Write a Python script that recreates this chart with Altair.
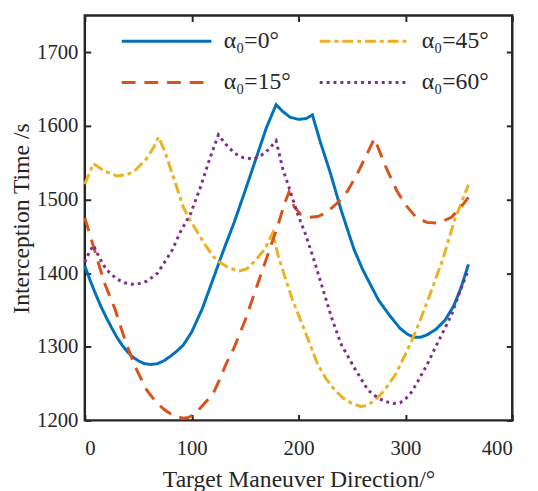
import altair as alt
import pandas as pd

series_labels = ["α₀=0°", "α₀=15°", "α₀=45°", "α₀=60°"]
colors = ["#0072BD", "#D95319", "#EDB120", "#7E2F8E"]
dashes = [[1, 0], [14, 9], [11, 4, 4, 4], [3, 4]]
legend_row1 = ["α₀=0°", "α₀=45°"]
legend_row2 = ["α₀=15°", "α₀=60°"]

x_a0 = [0, 5, 10, 15, 20, 25, 30, 35, 40, 45, 50, 56, 62, 68, 74, 80, 86, 92, 100, 110, 120, 130,
        140, 150, 160, 170, 179, 185, 192, 200, 207, 213, 220, 230, 240, 252, 260, 266, 275, 285,
        295, 302, 308, 314, 320, 328, 337, 345, 352, 359]
y_a0 = [1410, 1390, 1372, 1355, 1340, 1326, 1313, 1302, 1293, 1286, 1281, 1277, 1276, 1277, 1281,
        1287, 1294, 1302, 1320, 1352, 1392, 1432, 1470, 1512, 1555, 1598, 1629, 1620, 1612, 1609,
        1610, 1615, 1580, 1535, 1485, 1432, 1405, 1388, 1363, 1343, 1325, 1317, 1313, 1313, 1316,
        1323, 1336, 1355, 1380, 1412]

x_a15 = [0, 9, 18, 28, 37, 46, 58, 66, 74, 80, 86, 92, 97, 103, 110, 120, 126, 132, 140, 150, 160,
         170, 180, 187, 191, 196, 202, 210, 218, 226, 236, 246, 255, 262, 271, 282, 292, 300, 310,
         320, 331, 343, 351, 359]
y_a15 = [1475, 1432, 1388, 1352, 1312, 1276, 1241, 1226, 1215, 1209, 1205, 1203, 1204, 1209, 1220,
         1236, 1255, 1276, 1300, 1336, 1378, 1420, 1462, 1495, 1510, 1490, 1480, 1476, 1477, 1482,
         1495, 1512, 1535, 1556, 1583, 1543, 1512, 1493, 1476, 1469, 1468, 1476, 1488, 1503]

x_a45 = [0, 8, 18, 30, 40, 48, 58, 64, 69, 75, 80, 86, 92, 98, 104, 112, 120, 127, 135, 145, 152,
         160, 168, 176, 181, 185, 194, 206, 218, 226, 234, 242, 250, 258, 264, 272, 280, 291, 303,
         312, 325, 335, 346, 359]
y_a45 = [1521, 1549, 1539, 1532, 1534, 1541, 1556, 1570, 1585, 1565, 1543, 1517, 1490, 1473, 1459,
         1440, 1423, 1414, 1407, 1403, 1406, 1418, 1432, 1455, 1423, 1405, 1365, 1321, 1276, 1256,
         1241, 1230, 1223, 1219, 1220, 1228, 1240, 1263, 1299, 1329, 1379, 1419, 1472, 1520]

x_a60 = [0, 4, 8, 14, 20, 30, 37, 44, 51, 58, 68, 76, 82, 89, 99, 108, 117, 125, 132, 140, 148, 158,
         165, 172, 179, 185, 193, 199, 206, 214, 222, 231, 240, 252, 265, 272, 280, 289, 295, 300,
         306, 312, 320, 328, 343, 352, 359]
y_a60 = [1415, 1428, 1438, 1420, 1405, 1392, 1387, 1385, 1386, 1389, 1400, 1418, 1432, 1455, 1481,
         1516, 1556, 1588, 1575, 1563, 1557, 1555, 1560, 1568, 1580, 1543, 1508, 1481, 1455, 1420,
         1382, 1339, 1303, 1272, 1241, 1233, 1226, 1223, 1224, 1229, 1239, 1254, 1275, 1299, 1343,
         1379, 1405]

x_ticks = [0, 100, 200, 300, 400]
y_ticks = [1200, 1300, 1400, 1500, 1600, 1700]

rows = []
for lab, xs, ys in zip(series_labels, [x_a0, x_a15, x_a45, x_a60], [y_a0, y_a15, y_a45, y_a60]):
    for i, (xv, yv) in enumerate(zip(xs, ys)):
        rows.append({"series": lab, "x": xv, "y": yv, "i": i})
df = pd.DataFrame(rows)

color_of = dict(zip(series_labels, colors))
dash_of = dict(zip(series_labels, dashes))

FONT = "Liberation Serif"
INK = "#262626"
xdom = [0, 400]
ydom = [1200, 1750]
xscale = alt.Scale(domain=xdom, nice=False, zero=False)
yscale = alt.Scale(domain=ydom, nice=False, zero=False)


def series_layer(members, legend_y, col_pad, x_axis, y_axis):
    sub = df[df["series"].isin(members)]
    return alt.Chart(sub).mark_line(strokeWidth=3).encode(
        x=alt.X("x:Q", scale=xscale, axis=x_axis),
        y=alt.Y("y:Q", scale=yscale, axis=y_axis),
        color=alt.Color("series:N",
                        scale=alt.Scale(domain=members, range=[color_of[m] for m in members]),
                        legend=alt.Legend(orient="none", legendX=36, legendY=legend_y,
                                          direction="horizontal", columns=2,
                                          symbolType="stroke", symbolSize=8281,
                                          symbolStrokeWidth=3, labelFont=FONT,
                                          labelFontSize=24, labelColor=INK, title=None,
                                          labelOffset=11, columnPadding=col_pad, padding=0)),
        strokeDash=alt.StrokeDash("series:N",
                                  scale=alt.Scale(domain=members,
                                                  range=[dash_of[m] for m in members]),
                                  legend=None),
        detail="series:N",
        order="i:Q",
    )


x_axis_main = alt.Axis(values=x_ticks, format="d", orient="bottom", offset=-6, tickSize=6,
                       tickWidth=2, tickColor=INK, domain=False, grid=False, labelFont=FONT,
                       labelFontSize=21, labelColor=INK, labelPadding=18,
                       title="Target Maneuver Direction/°", titleFont=FONT, titleFontSize=24,
                       titleFontWeight="normal", titleColor=INK, titlePadding=9)
y_axis_main = alt.Axis(values=y_ticks, format="d", orient="left", offset=-6, tickSize=6,
                       tickWidth=2, tickColor=INK, domain=False, grid=False, labelFont=FONT,
                       labelFontSize=21, labelColor=INK, labelPadding=7,
                       title="Interception Time /s", titleFont=FONT, titleFontSize=24,
                       titleFontWeight="normal", titleColor=INK, titlePadding=3)

layer_a = series_layer(legend_row1, -21, 34, x_axis_main, y_axis_main)
layer_b = series_layer(legend_row2, 21, 22, None, None)

ghost = alt.Chart(df).mark_line(opacity=0).encode(
    x=alt.X("x:Q", scale=xscale,
            axis=alt.Axis(values=x_ticks, orient="top", offset=-6, tickSize=6, tickWidth=2,
                          tickColor=INK, domain=False, grid=False, labels=False, title=None)),
    y=alt.Y("y:Q", scale=yscale,
            axis=alt.Axis(values=y_ticks, orient="right", offset=-6, tickSize=6, tickWidth=2,
                          tickColor=INK, domain=False, grid=False, labels=False, title=None)),
    detail="series:N",
    order="i:Q",
)

chart = alt.layer(layer_a, layer_b, ghost).resolve_scale(
    x="independent", y="independent", color="independent", strokeDash="independent"
).resolve_legend(
    color="independent", strokeDash="independent"
).properties(
    width=434, height=411,
    padding={"left": 78, "top": 4, "right": 18, "bottom": 68},
    autosize=alt.AutoSizeParams(type="none"),
).configure(
    background="white", font=FONT
).configure_view(
    stroke=INK, strokeWidth=2.5
).configure_axis(
    labelFont=FONT, titleFont=FONT
).configure_legend(
    labelFont=FONT
)

chart.save("out.html", embed_options={"renderer": "svg", "actions": False})
